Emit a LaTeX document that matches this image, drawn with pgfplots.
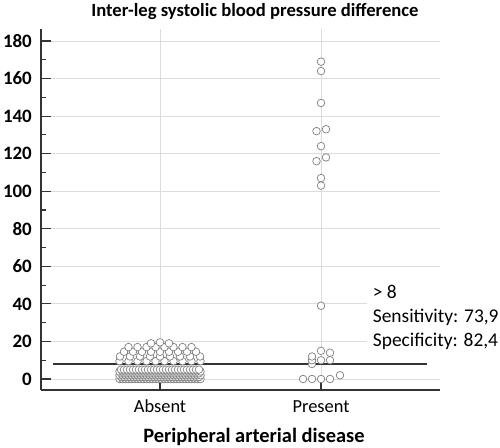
\documentclass[border=0pt]{standalone}
\usepackage{pgfplots}
\pgfplotsset{compat=1.18}
\usepackage{fontspec}
\setmainfont{Carlito}
\definecolor{gridc}{HTML}{DCDCDC}
\definecolor{axc}{HTML}{333333}
\definecolor{markc}{HTML}{7F7F7F}
\begin{document}
\begin{tikzpicture}[x=1bp,y=1bp]
\useasboundingbox (-41,-58) rectangle (459,390);
\begin{axis}[
  at={(0,0)}, anchor=south west,
  width=399bp, height=361bp, scale only axis,
  xmin=-119, xmax=280, ymin=-5.86, ymax=186.4,
  axis x line*=bottom, axis y line*=left,
  axis line style={axc, line width=1.6bp, -},
  xtick={0,161}, xticklabels={Absent,Present},
  ytick={0,20,...,180}, minor ytick={10,30,...,170},
  tick align=inside,
  major tick length=10bp, minor tick length=5bp,
  tick style={axc, line width=1.2bp},
  grid=major, major grid style={gridc, line width=0.8bp},
  /pgf/number format/assume math mode=true,
  yticklabel style={font=\bfseries\fontsize{19}{19}\selectfont, anchor=east, inner sep=0pt, xshift=-9bp},
  xticklabel style={font=\fontsize{18.5}{18.5}\selectfont, anchor=north, inner sep=0pt, yshift=-10bp},
  clip=false,
]
% Absent: dense rows (values 0-5)
\addplot[only marks, mark=*, mark size=3.8bp, mark options={draw=markc, fill=white, line width=0.7bp}] coordinates {
(-40.5,0)(-37.5,0)(-34.5,0)(-31.5,0)(-28.5,0)(-25.5,0)(-22.5,0)(-19.5,0)(-16.5,0)(-13.5,0)(-10.5,0)(-7.5,0)(-4.5,0)(-1.5,0)(1.5,0)(4.5,0)(7.5,0)(10.5,0)(13.5,0)(16.5,0)(19.5,0)(22.5,0)(25.5,0)(28.5,0)(31.5,0)(34.5,0)(37.5,0)(40.5,0)
(-39,1)(-36,1)(-33,1)(-30,1)(-27,1)(-24,1)(-21,1)(-18,1)(-15,1)(-12,1)(-9,1)(-6,1)(-3,1)(0,1)(3,1)(6,1)(9,1)(12,1)(15,1)(18,1)(21,1)(24,1)(27,1)(30,1)(33,1)(36,1)(39,1)
(-40.5,2)(-37.5,2)(-34.5,2)(-31.5,2)(-28.5,2)(-25.5,2)(-22.5,2)(-19.5,2)(-16.5,2)(-13.5,2)(-10.5,2)(-7.5,2)(-4.5,2)(-1.5,2)(1.5,2)(4.5,2)(7.5,2)(10.5,2)(13.5,2)(16.5,2)(19.5,2)(22.5,2)(25.5,2)(28.5,2)(31.5,2)(34.5,2)(37.5,2)(40.5,2)
(-39,3)(-36,3)(-33,3)(-30,3)(-27,3)(-24,3)(-21,3)(-18,3)(-15,3)(-12,3)(-9,3)(-6,3)(-3,3)(0,3)(3,3)(6,3)(9,3)(12,3)(15,3)(18,3)(21,3)(24,3)(27,3)(30,3)(33,3)(36,3)(39,3)
(-40.5,4)(-37.5,4)(-34.5,4)(-31.5,4)(-28.5,4)(-25.5,4)(-22.5,4)(-19.5,4)(-16.5,4)(-13.5,4)(-10.5,4)(-7.5,4)(-4.5,4)(-1.5,4)(1.5,4)(4.5,4)(7.5,4)(10.5,4)(13.5,4)(16.5,4)(19.5,4)(22.5,4)(25.5,4)(28.5,4)(31.5,4)(34.5,4)(37.5,4)(40.5,4)
(-39,5)(-36,5)(-33,5)(-30,5)(-27,5)(-24,5)(-21,5)(-18,5)(-15,5)(-12,5)(-9,5)(-6,5)(-3,5)(0,5)(3,5)(6,5)(9,5)(12,5)(15,5)(18,5)(21,5)(24,5)(27,5)(30,5)(33,5)(36,5)(39,5)
};
% Absent: upper rows
\addplot[only marks, mark=*, mark size=3.8bp, mark options={draw=markc, fill=white, line width=0.7bp}] coordinates {
(-40.5,9.5)(-31.5,9.5)(-22.5,9.5)(-13.5,9.5)(-4.5,9.5)(4.5,9.5)(13.5,9.5)(22.5,9.5)(31.5,9.5)(40.5,9.5)
(-40,12)(-30,12)(-20,12)(-10,12)(0,12)(10,12)(20,12)(30,12)(40,12)
(-36,14.5)(-27,14.5)(-18,14.5)(-9,14.5)(0,14.5)(9,14.5)(18,14.5)(27,14.5)(36,14.5)
(-31.5,17)(-22.5,17)(-13.5,17)(-4.5,17)(4.5,17)(13.5,17)(22.5,17)(31.5,17)
(-9,19)(0,19.5)(9,19)
};
% Present
\addplot[only marks, mark=*, mark size=3.8bp, mark options={draw=markc, fill=white, line width=0.7bp}] coordinates {
(161,169)(161,164)(161,147)(156.5,132)(166,133)(161,124)(156.5,116)(166,118)(161,107)(161,103)(161,39)
(152,8)(152,10)(152,12)(161,10)(161,15)(170,10)(170,14)
(143,0)(152,0)(161,0)(170,0)(180,2)
};
% cut-off line
\addplot[axc, line width=1.6bp] coordinates {(-107,8)(267,8)};
\end{axis}
\fill[white] (326,36) rectangle (459,110);
\node[anchor=base west, inner sep=0pt, font=\fontsize{19.5}{19.5}\selectfont] at (331.7,91) {> 8};
\node[anchor=base west, inner sep=0pt, font=\fontsize{19.5}{19.5}\selectfont] at (331.7,67) {Sensitivity: 73,9};
\node[anchor=base west, inner sep=0pt, font=\fontsize{19.5}{19.5}\selectfont] at (331.7,43) {Specificity: 82,4};
\node[font=\bfseries\fontsize{18.7}{18.7}\selectfont] at (214,378) {Inter-leg systolic blood pressure difference};
\node[font=\bfseries\fontsize{20.5}{20.5}\selectfont] at (213,-47) {Peripheral arterial disease};
\end{tikzpicture}
\end{document}
